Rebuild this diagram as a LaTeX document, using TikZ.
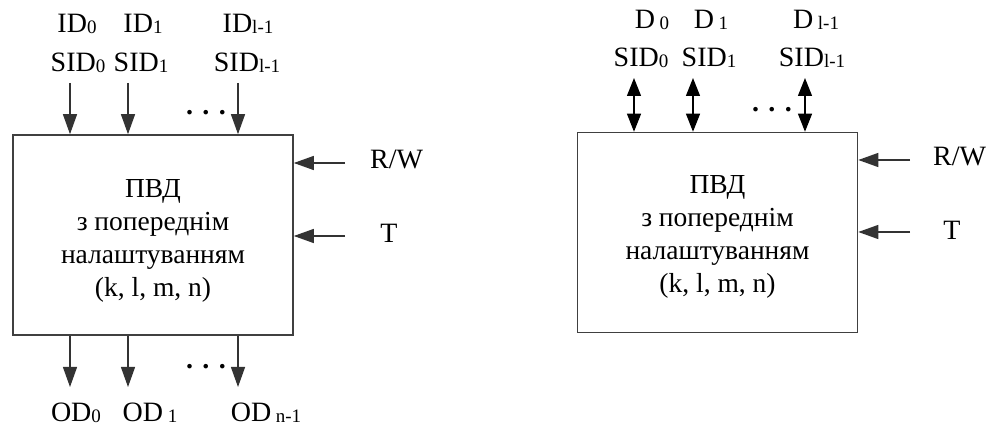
\documentclass[tikz,border=0pt]{standalone}
\usepackage{fontspec}
\setmainfont{Liberation Serif}
\usetikzlibrary{arrows.meta,positioning}

\newcommand{\subix}[1]{\raisebox{-1pt}{\fontsize{19}{19}\selectfont #1}}

\begin{document}
\begin{tikzpicture}[x=1pt,y=-1pt,
	blk/.style={draw=black!75,line width=1.6pt,minimum width=280pt,minimum height=200pt},
	txt/.style={align=center,font=\fontsize{27.5}{33}\selectfont},
	sig/.style={-{Triangle[length=20pt,width=14pt]},line width=1.3pt,draw=black!80},
	bus/.style={{Triangle[length=18pt,width=14pt]}-{Triangle[length=18pt,width=14pt]},line width=1.3pt},
	lab/.style={anchor=base,inner sep=0pt,font=\fontsize{28}{28}\selectfont},
	dotsl/.style={font=\fontsize{28}{28}\selectfont\bfseries}]
	\useasboundingbox (0,0) rectangle (988,427);
	% left block
	\node[blk] (lbox) at (153,235) {};
	\node[txt] (ltxt) at ([yshift=-6pt]lbox.center) {ПВД\\з попереднім\\налаштуванням\\(k, l, m, n)};
	\node[lab] (lid0) at (77,33) {ID\subix{0}};
	\node[lab] (lid1) at (143,33) {ID\subix{1}};
	\node[lab] (lidl) at (248,33) {ID\subix{l-1}};
	\node[lab] (lsid0) at (78,72) {SID\subix{0}};
	\node[lab] (lsid1) at (141,72) {SID\subix{1}};
	\node[lab] (lsidl) at (247,72) {SID\subix{l-1}};
	\coordinate (la0) at (70,83);
	\coordinate (la1) at (128,83);
	\coordinate (la2) at (238,83);
	\draw[sig] (la0) -- (la0 |- lbox.north);
	\draw[sig] (la1) -- (la1 |- lbox.north);
	\draw[sig] (la2) -- (la2 |- lbox.north);
	\node[dotsl] (ldots) at (206,113) {. . .};
	\coordinate (lo0) at (70,387);
	\coordinate (lo1) at (128,387);
	\coordinate (lo2) at (238,387);
	\draw[sig] (lo0 |- lbox.south) -- (lo0);
	\draw[sig] (lo1 |- lbox.south) -- (lo1);
	\draw[sig] (lo2 |- lbox.south) -- (lo2);
	\node[dotsl] (odots) at (206,367) {. . .};
	\node[lab] (od0) at (76,421) {OD\subix{0}};
	\node[lab] (od1) at (150,421) {OD\,\subix{1}};
	\node[lab] (odn) at (266,421) {OD\,\subix{n-1}};
	\node[lab,anchor=base west] (lrw) at (370,169) {R/W};
	\node[lab] (lt) at (389,243) {T};
	\coordinate (lrwc) at (345,163);
	\coordinate (ltc) at (345,236);
	\draw[sig] (lrwc) -- (lrwc -| lbox.east);
	\draw[sig] (ltc) -- (ltc -| lbox.east);
	% right block
	\node[blk] (rbox) at (717.5,232.5) {};
	\node[txt] (rtxt) at ([yshift=-4pt]rbox.center) {ПВД\\з попереднім\\налаштуванням\\(k, l, m, n)};
	\node[lab] (rd0) at (652,29) {D\,\subix{0}};
	\node[lab] (rd1) at (711,29) {D\,\subix{1}};
	\node[lab] (rdl) at (816,29) {D\,\subix{l-1}};
	\node[lab] (rsid0) at (641,67) {SID\subix{0}};
	\node[lab] (rsid1) at (709,67) {SID\subix{1}};
	\node[lab] (rsidl) at (812,67) {SID\subix{l-1}};
	\coordinate (rb0) at (634,78);
	\coordinate (rb1) at (693,78);
	\coordinate (rb2) at (805,78);
	\draw[bus] (rb0) -- (rb0 |- rbox.north);
	\draw[bus] (rb1) -- (rb1 |- rbox.north);
	\draw[bus] (rb2) -- (rb2 |- rbox.north);
	\node[dotsl] (rdots) at (772,110) {. . .};
	\node[lab,anchor=base west] (rrw) at (933,166) {R/W};
	\node[lab] (rt) at (952,240) {T};
	\coordinate (rrwc) at (910,160);
	\coordinate (rtc) at (910,232);
	\draw[sig] (rrwc) -- (rrwc -| rbox.east);
	\draw[sig] (rtc) -- (rtc -| rbox.east);
\end{tikzpicture}
\end{document}
